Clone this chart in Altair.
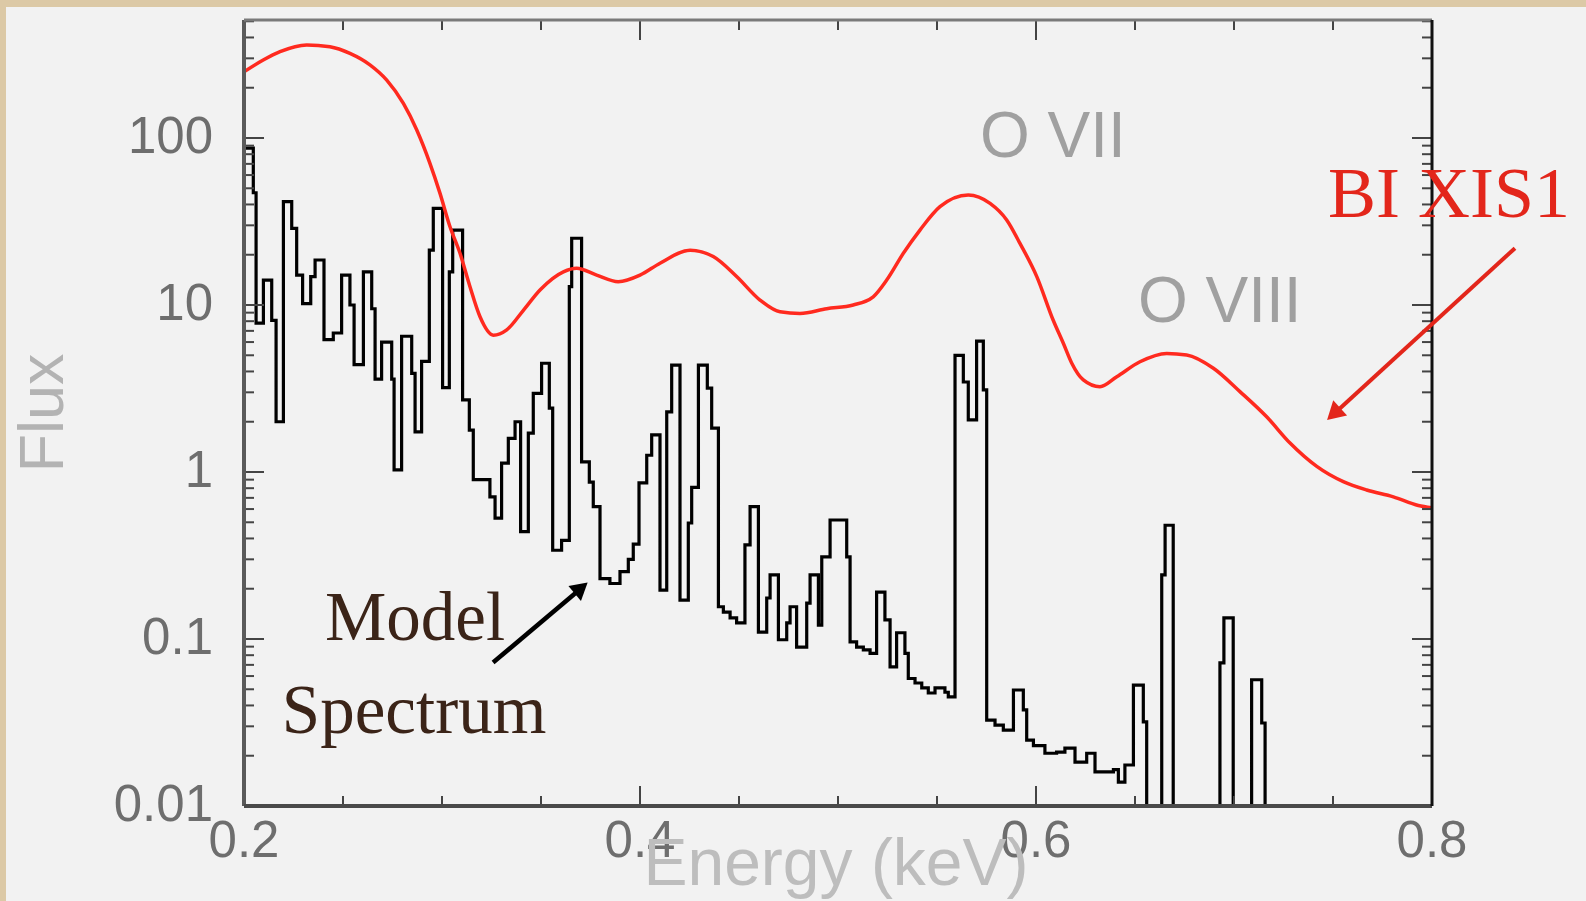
import altair as alt
import pandas as pd

# ---------------- data ----------------
# Model spectrum (black step histogram): bin left edges in keV (last value = final edge)
model_edges = [
    0.2000, 0.2047, 0.2061, 0.2098, 0.2140, 0.2162, 0.2199, 0.2241, 0.2266, 0.2296,
    0.2337, 0.2359, 0.2404, 0.2451, 0.2493, 0.2535, 0.2556, 0.2603, 0.2645, 0.2662,
    0.2695, 0.2746, 0.2758, 0.2796, 0.2847, 0.2864, 0.2897, 0.2936, 0.2956, 0.3003,
    0.3037, 0.3054, 0.3104, 0.3138, 0.3158, 0.3242, 0.3268, 0.3301, 0.3335, 0.3369,
    0.3397, 0.3436, 0.3461, 0.3503, 0.3542, 0.3559, 0.3604, 0.3643, 0.3655, 0.3705,
    0.3744, 0.3764, 0.3798, 0.3848, 0.3899, 0.3941, 0.3966, 0.3995, 0.4034, 0.4059,
    0.4101, 0.4135, 0.4160, 0.4202, 0.4244, 0.4261, 0.4295, 0.4340, 0.4362, 0.4396,
    0.4421, 0.4455, 0.4488, 0.4530, 0.4556, 0.4598, 0.4640, 0.4657, 0.4699, 0.4741,
    0.4758, 0.4791, 0.4842, 0.4859, 0.4901, 0.4918, 0.4960, 0.5044, 0.5061, 0.5094,
    0.5128, 0.5162, 0.5195, 0.5237, 0.5263, 0.5296, 0.5338, 0.5355, 0.5389, 0.5423,
    0.5456, 0.5490, 0.5540, 0.5557, 0.5591, 0.5633, 0.5658, 0.5700, 0.5734, 0.5751,
    0.5793, 0.5835, 0.5886, 0.5936, 0.5953, 0.5987, 0.6045, 0.6104, 0.6146, 0.6197,
    0.6256, 0.6298, 0.6391, 0.6416, 0.6449, 0.6492, 0.6542, 0.6559, 0.6635, 0.6652,
    0.6693, 0.6929, 0.6949, 0.6996, 0.7089, 0.7140, 0.7157,
]
model_flux = [
    87, 47, 7.8, 14.1, 8.1, 2.0, 41.6, 28.8, 15.1, 10.2,
    14.8, 18.6, 6.2, 6.8, 15.1, 10.0, 4.4, 15.8, 9.5, 3.6,
    6.0, 3.6, 1.03, 6.5, 3.9, 1.74, 4.6, 21.3, 37.9, 3.2,
    15.8, 28.1, 2.7, 1.78, 0.90, 0.71, 0.53, 1.13, 1.59, 2.0,
    0.44, 1.71, 2.96, 4.48, 2.41, 0.34, 0.39, 12.9, 25.1, 1.15,
    0.87, 0.62, 0.23, 0.215, 0.253, 0.30, 0.37, 0.86, 1.26, 1.67,
    0.196, 2.29, 4.37, 0.171, 0.495, 0.81, 4.37, 3.18, 1.83, 0.156,
    0.145, 0.134, 0.125, 0.366, 0.62, 0.110, 0.176, 0.242, 0.099, 0.125,
    0.156, 0.0895, 0.164, 0.242, 0.121, 0.31, 0.516, 0.31, 0.096, 0.0895,
    0.086, 0.082, 0.191, 0.130, 0.068, 0.109, 0.082, 0.058, 0.0545, 0.051,
    0.0475, 0.051, 0.048, 0.045, 5.0, 3.46, 2.05, 6.08, 3.1, 0.0327,
    0.0305, 0.0285, 0.0495, 0.0376, 0.0248, 0.023, 0.0207, 0.021, 0.0222, 0.0183,
    0.0207, 0.016, 0.0165, 0.0139, 0.0176, 0.053, 0.0319, 0.004, 0.242, 0.48,
    0.004, 0.072, 0.134, 0.004, 0.057, 0.0314, 0.004,
]

# BI XIS1 curve (red)
xis_energy = [
    0.2000, 0.2097, 0.2182, 0.2317, 0.2434, 0.2535, 0.2636, 0.2721, 0.2805, 0.2872,
    0.2939, 0.2990, 0.3040, 0.3091, 0.3141, 0.3192, 0.3259, 0.3327, 0.3411, 0.3495,
    0.3613, 0.3680, 0.3781, 0.3890, 0.4000, 0.4101, 0.4253, 0.4370, 0.4488, 0.4606,
    0.4707, 0.4808, 0.4943, 0.5077, 0.5178, 0.5246, 0.5330, 0.5414, 0.5515, 0.5658,
    0.5768, 0.5852, 0.5919, 0.6004, 0.6087, 0.6138, 0.6180, 0.6239, 0.6323, 0.6408,
    0.6525, 0.6660, 0.6761, 0.6896, 0.7030, 0.7165, 0.7283, 0.7418, 0.7552, 0.7670,
    0.7805, 0.7931, 0.8000,
]
xis_flux = [
    249, 293, 329, 361, 352, 321, 274, 222, 161, 112,
    70.5, 46.6, 29.5, 20.4, 12.9, 8.5, 6.6, 7.1, 9.3, 12.3,
    15.8, 16.6, 15.1, 13.8, 15.1, 17.8, 21.3, 19.5, 14.8, 10.7,
    9.1, 8.9, 9.5, 10.0, 11.2, 14.1, 20.4, 28.1, 38.8, 45.6,
    40.6, 32.3, 23.4, 14.8, 8.1, 5.9, 4.5, 3.56, 3.24, 3.72,
    4.57, 5.13, 5.02, 4.18, 3.03, 2.14, 1.49, 1.08, 0.875, 0.78,
    0.71, 0.63, 0.61,
]

# axis ticks / labels
y_labels = [0.01, 0.1, 1, 10, 100]
y_minor = [k * 10.0 ** n for n in range(-2, 3) for k in range(2, 10) if k * 10.0 ** n < 505]
x_labels = [0.2, 0.4, 0.6, 0.8]
x_minor = [0.25, 0.3, 0.35, 0.45, 0.5, 0.55, 0.65, 0.7, 0.75]
x_title = "Energy (keV)"
y_title = "Flux"

# annotations (data coordinates)
ion_text = ["O VII", "O VIII"]
ion_energy = [0.5717, 0.6515]
ion_flux = [76.9, 7.9]

model_text = ["Model", "Spectrum"]
model_text_energy = [0.2864, 0.2859]
model_text_flux = [0.0986, 0.0273]

xis_text = ["BI XIS1"]
xis_text_energy = [0.7475]
xis_text_flux = [33.7]

red_arrow_energy = [0.8419, 0.7500]
red_arrow_flux = [21.9, 2.2]
red_head_energy = [0.7514]
red_head_flux = [2.29]

black_arrow_energy = [0.3258, 0.3700]
black_arrow_flux = [0.0723, 0.20]
black_head_energy = [0.3692]
black_head_flux = [0.197]

# ---------------- chart ----------------
W, H = 1188, 786
FONT = "Liberation Sans"
HAND = "Liberation Serif"

xs = alt.Scale(domain=[0.2, 0.8], nice=False, zero=False)
ys = alt.Scale(type="log", domain=[0.01, 508.9], nice=False)


def X(field):
    return alt.X(field, scale=xs, axis=None)


def Y(field):
    return alt.Y(field, scale=ys, axis=None)


df_model = pd.DataFrame({"E": model_edges, "F": model_flux})
df_xis = pd.DataFrame({"E": xis_energy, "F": xis_flux})
one = pd.DataFrame({"a": [0]})

panel = alt.Chart(one).mark_rect(fill="#f2f2f2", clip=False).encode(
    x=alt.value(-238), x2=alt.value(W + 160), y=alt.value(-13), y2=alt.value(H + 100)
)

hist = alt.Chart(df_model).mark_line(
    interpolate="step-after", color="#000000", strokeWidth=3.2, clip=True
).encode(x=X("E:Q"), y=Y("F:Q"))

xis = alt.Chart(df_xis).mark_line(
    interpolate="monotone", color="#ff2a1f", strokeWidth=3.5, clip=True
).encode(x=X("E:Q"), y=Y("F:Q"))

TICK = "#444444"
df_ymaj = pd.DataFrame({"v": y_labels})
df_ymin = pd.DataFrame({"v": y_minor})
df_xmaj = pd.DataFrame({"v": x_labels})
df_xmin = pd.DataFrame({"v": x_minor})


def yticks(df, length):
    left = alt.Chart(df).mark_rule(color=TICK, strokeWidth=2).encode(
        y=Y("v:Q"), x=alt.value(0), x2=alt.value(length))
    right = alt.Chart(df).mark_rule(color=TICK, strokeWidth=2).encode(
        y=Y("v:Q"), x=alt.value(W - length), x2=alt.value(W))
    return [left, right]


def xticks(df, length):
    bottom = alt.Chart(df).mark_rule(color=TICK, strokeWidth=2).encode(
        x=X("v:Q"), y=alt.value(H - length), y2=alt.value(H))
    top = alt.Chart(df).mark_rule(color=TICK, strokeWidth=2).encode(
        x=X("v:Q"), y=alt.value(0), y2=alt.value(length))
    return [bottom, top]


tick_layers = yticks(df_ymaj, 20) + yticks(df_ymin, 10) + xticks(df_xmaj, 20) + xticks(df_xmin, 10)

# tick labels and axis titles
ylab = alt.Chart(df_ymaj).mark_text(
    align="right", baseline="middle", font=FONT, fontSize=51, color="#6e6e6e", clip=False
).encode(y=Y("v:Q"), x=alt.value(-31), text=alt.Text("v:Q", format="~g"))
xlab = alt.Chart(df_xmaj).mark_text(
    align="center", baseline="top", font=FONT, fontSize=51, color="#6e6e6e", clip=False
).encode(x=X("v:Q"), y=alt.value(H + 11), text=alt.Text("v:Q", format=".1f"))
ytitle = alt.Chart(one).mark_text(
    text=y_title, align="center", baseline="alphabetic", angle=270, font=FONT,
    fontSize=63, color="#b3b3b3", clip=False
).encode(x=alt.value(-181), y=alt.value(393))
xtitle = alt.Chart(one).mark_text(
    text=x_title, align="center", baseline="alphabetic", font=FONT,
    fontSize=66, color="#bdbdbd", clip=False
).encode(x=alt.value(592), y=alt.value(H + 79))

# plot frame
frame = [
    alt.Chart(one).mark_rule(color="#5a5a5a", strokeWidth=4).encode(
        x=alt.value(0), y=alt.value(0), y2=alt.value(H)),
    alt.Chart(one).mark_rule(color="#4a4a4a", strokeWidth=4).encode(
        x=alt.value(0), x2=alt.value(W), y=alt.value(H)),
    alt.Chart(one).mark_rule(color="#7a7a7a", strokeWidth=3).encode(
        x=alt.value(0), x2=alt.value(W), y=alt.value(0)),
    alt.Chart(one).mark_rule(color="#111111", strokeWidth=3).encode(
        x=alt.value(W), y=alt.value(0), y2=alt.value(H)),
]

ions = alt.Chart(pd.DataFrame({"E": ion_energy, "F": ion_flux, "t": ion_text})).mark_text(
    align="left", baseline="alphabetic", font=FONT, fontSize=64, color="#a0a0a0", clip=False
).encode(x=X("E:Q"), y=Y("F:Q"), text="t:N")

model_lbl = alt.Chart(pd.DataFrame({"E": model_text_energy, "F": model_text_flux, "t": model_text})).mark_text(
    align="center", baseline="alphabetic", font=HAND, fontSize=69, color="#3b2418", clip=False
).encode(x=X("E:Q"), y=Y("F:Q"), text="t:N")

xis_lbl = alt.Chart(pd.DataFrame({"E": xis_text_energy, "F": xis_text_flux, "t": xis_text})).mark_text(
    align="left", baseline="alphabetic", font=HAND, fontSize=72, color="#e3261b", clip=False
).encode(x=X("E:Q"), y=Y("F:Q"), text="t:N")

red_arrow = alt.Chart(pd.DataFrame({"E": red_arrow_energy, "F": red_arrow_flux, "o": [0, 1]})).mark_line(
    color="#e3261b", strokeWidth=4, clip=False
).encode(x=X("E:Q"), y=Y("F:Q"), order="o:Q")
red_head = alt.Chart(pd.DataFrame({"E": red_head_energy, "F": red_head_flux})).mark_point(
    shape="triangle", filled=True, size=420, angle=227.5, color="#e3261b", opacity=1, clip=False
).encode(x=X("E:Q"), y=Y("F:Q"))

black_arrow = alt.Chart(pd.DataFrame({"E": black_arrow_energy, "F": black_arrow_flux, "o": [0, 1]})).mark_line(
    color="#000000", strokeWidth=4.5, clip=False
).encode(x=X("E:Q"), y=Y("F:Q"), order="o:Q")
black_head = alt.Chart(pd.DataFrame({"E": black_head_energy, "F": black_head_flux})).mark_point(
    shape="triangle", filled=True, size=380, angle=50.1, color="#000000", opacity=1, clip=False
).encode(x=X("E:Q"), y=Y("F:Q"))

chart = alt.layer(
    panel, hist, xis, *tick_layers, *frame, ylab, xlab, ytitle, xtitle,
    ions, model_lbl, xis_lbl, red_arrow, red_head, black_arrow, black_head,
).properties(
    width=W, height=H,
    autosize=alt.AutoSizeParams(type="none"),
    padding={"left": 244, "top": 20, "right": 154, "bottom": 95},
    background="#dcc9a6",
).configure_view(stroke=None)

chart.save("out.html", embed_options={"renderer": "svg", "actions": False})
